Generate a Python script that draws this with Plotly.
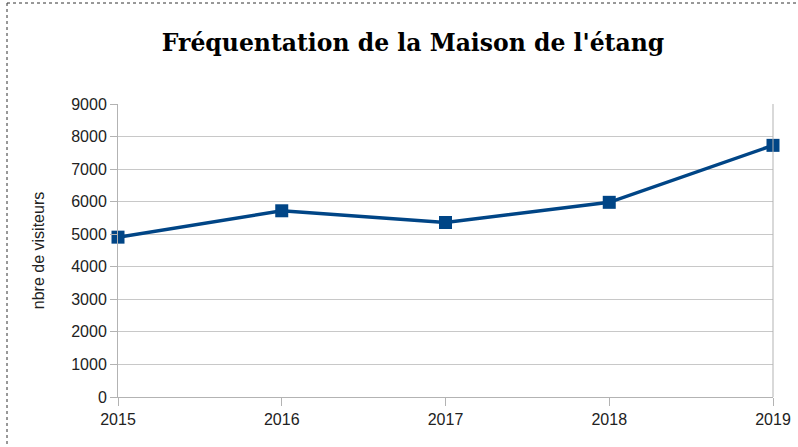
import plotly.graph_objects as go

years = ["2015", "2016", "2017", "2018", "2019"]
visitors = [4910, 5720, 5360, 5980, 7730]
y_ticks = [0, 1000, 2000, 3000, 4000, 5000, 6000, 7000, 8000, 9000]

fig = go.Figure()
fig.add_trace(go.Scatter(
    x=years, y=visitors, mode="lines+markers",
    line=dict(color="#004586", width=3.5),
    marker=dict(symbol="square", size=13, color="#004586"),
    showlegend=False, cliponaxis=False,
))

W, H = 798, 447
L, R, T, B = 118, 25, 104, 50
pw, ph = W - L - R, H - T - B

def px(x):
    return (x - L) / pw

def py(y):
    return (H - B - y) / ph

fig.update_layout(
    width=W, height=H,
    margin=dict(l=L, r=R, t=T, b=B, autoexpand=False),
    paper_bgcolor="white", plot_bgcolor="white",
    title=dict(text="<b>Fréquentation de la Maison de l'étang</b>",
               x=(413) / W, xanchor="center", y=1 - 43 / H, yanchor="middle",
               font=dict(family="DejaVu Serif", size=23.5, color="black")),
    font=dict(family="Liberation Sans", size=16, color="#222"),
    xaxis=dict(
        type="category", range=[0, 4], showgrid=False, automargin=False,
        showline=True, linecolor="#b3b3b3", linewidth=1,
        ticks="outside", ticklen=8, tickcolor="#b3b3b3",
        tickfont=dict(size=16, color="#222"),
        mirror=False,
    ),
    yaxis=dict(
        range=[0, 9000], tickvals=y_ticks, automargin=False,
        showgrid=True, gridcolor="#c8c8c8", gridwidth=1,
        showline=True, linecolor="#b3b3b3", linewidth=1,
        ticks="outside", ticklen=7, tickcolor="#b3b3b3",
        tickfont=dict(size=16, color="#222"),
        title=dict(text="nbre de visiteurs", font=dict(size=16, color="#222"), standoff=22),
        zeroline=False,
    ),
    shapes=[
        dict(type="line", xref="paper", yref="paper", x0=1, x1=1, y0=0, y1=1,
             line=dict(color="#b3b3b3", width=1)),
        dict(type="line", xref="paper", yref="paper", x0=px(7), x1=px(W + 5), y0=py(3), y1=py(3),
             line=dict(color="#333", width=1, dash="dot")),
        dict(type="line", xref="paper", yref="paper", x0=px(7), x1=px(7), y0=py(3), y1=py(H + 5),
             line=dict(color="#333", width=1, dash="dot")),
    ],
)

fig.write_html("out.html")
